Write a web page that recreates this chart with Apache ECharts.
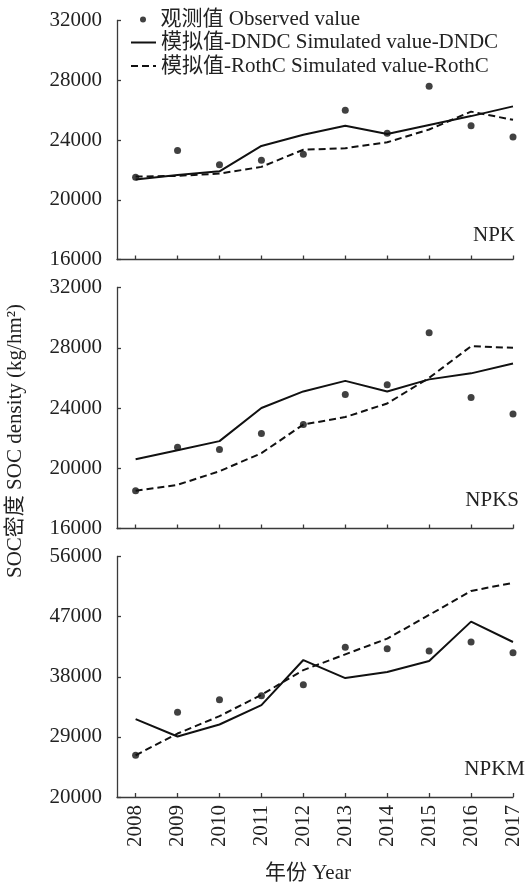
<!DOCTYPE html>
<html><head><meta charset="utf-8">
<script src="https://cdn.jsdelivr.net/npm/echarts@6/dist/echarts.min.js"></script>
<style>html,body{margin:0;padding:0;background:#fff}#c{width:532px;height:885px}</style>
</head><body><div id="c"></div>
<script>
// ---- data ----
const years = [2008, 2009, 2010, 2011, 2012, 2013, 2014, 2015, 2016, 2017];
const panelNames = ['NPK', 'NPKS', 'NPKM'];
const yTicksNPK = [16000, 20000, 24000, 28000, 32000];
const yTicksNPKS = [16000, 20000, 24000, 28000, 32000];
const yTicksNPKM = [20000, 29000, 38000, 47000, 56000];

const npkObserved = [21500, 23300, 22350, 22650, 23050, 26000, 24450, 27600, 24950, 24200];
const npkDNDC     = [21350, 21650, 21900, 23600, 24350, 24950, 24400, 25000, 25600, 26250];
const npkRothC    = [21550, 21600, 21750, 22200, 23350, 23450, 23850, 24700, 25900, 25350];

const npksObserved = [18500, 21400, 21250, 22300, 22900, 24900, 25550, 29000, 24700, 23600];
const npksDNDC     = [20600, 21200, 21800, 24000, 25100, 25800, 25100, 25900, 26300, 26950];
const npksRothC    = [18500, 18900, 19800, 21000, 22900, 23400, 24300, 26000, 28100, 28000];

const npkmObserved = [26250, 32700, 34550, 35150, 36800, 42400, 42200, 41850, 43200, 41600];
const npkmDNDC     = [31650, 29050, 30850, 33750, 40500, 37800, 38700, 40350, 46250, 43200];
const npkmRothC    = [26250, 29500, 32100, 35300, 39000, 41350, 43700, 47250, 50850, 52050];

const nameObs = '观测值 Observed value';
const nameDNDC = '模拟值-DNDC Simulated value-DNDC';
const nameRothC = '模拟值-RothC Simulated value-RothC';
const axisTitleY = 'SOC密度 SOC density (kg/hm²)';
const axisTitleX = '年份 Year';

// ---- build ----
const FONT = "'Liberation Serif', 'Noto Sans CJK SC', serif";
const TXT = '#222';
const AX = '#3a3a3a';
const panels = [
  {ticks: yTicksNPK, obs: npkObserved, dndc: npkDNDC, rothc: npkRothC},
  {ticks: yTicksNPKS, obs: npksObserved, dndc: npksDNDC, rothc: npksRothC},
  {ticks: yTicksNPKM, obs: npkmObserved, dndc: npkmDNDC, rothc: npkmRothC}
];
const gridTops = [20.5, 287.5, 556.5];
const gridHeights = [239, 241, 240.5];
const pair = arr => years.map((y, i) => [y, arr[i]]);

const grid = [], xAxis = [], yAxis = [], series = [];
panels.forEach((p, i) => {
  grid.push({left: 117, width: 396, top: gridTops[i], height: gridHeights[i]});
  xAxis.push({
    type: 'value', gridIndex: i, min: 2007.556, max: 2017,
    splitLine: {show: false},
    axisLine: {show: true, lineStyle: {color: AX, width: 1.3}},
    axisTick: {show: true, inside: true, length: 4, customValues: years, lineStyle: {color: AX, width: 1.3}},
    axisLabel: {show: i === 2, customValues: years, rotate: 90, margin: 8,
      fontFamily: FONT, fontSize: 21, color: TXT, formatter: v => String(v)}
  });
  const lo = p.ticks[0], hi = p.ticks[p.ticks.length - 1];
  yAxis.push({
    type: 'value', gridIndex: i, min: lo, max: hi,
    splitLine: {show: false},
    axisLine: {show: true, lineStyle: {color: AX, width: 1.3}},
    axisTick: {show: true, inside: true, length: 4, customValues: p.ticks, lineStyle: {color: AX, width: 1.3}},
    axisLabel: {customValues: p.ticks, margin: 15, fontFamily: FONT, fontSize: 21, color: TXT,
      formatter: v => String(v)}
  });
  series.push({
    name: nameDNDC, type: 'line', xAxisIndex: i, yAxisIndex: i, data: pair(p.dndc),
    symbol: 'none', lineStyle: {color: '#111', width: 2}, itemStyle: {color: '#111'}, z: 3
  });
  series.push({
    name: nameRothC, type: 'line', xAxisIndex: i, yAxisIndex: i, data: pair(p.rothc),
    symbol: 'none', lineStyle: {color: '#111', width: 2, type: [7, 4]}, itemStyle: {color: '#111'}, z: 3
  });
  series.push({
    name: nameObs, type: 'scatter', xAxisIndex: i, yAxisIndex: i, data: pair(p.obs),
    symbol: 'circle', symbolSize: 7, itemStyle: {color: '#111'}, z: 4
  });
});

const panelLabelPos = [[515, 235], [519, 500], [525, 769]];
const graphic = panelNames.map((t, i) => ({
  type: 'text', x: panelLabelPos[i][0], y: panelLabelPos[i][1],
  style: {text: t, fill: TXT, font: '21px ' + FONT, textAlign: 'right', textVerticalAlign: 'middle'}
}));
graphic.push({
  type: 'text', x: 15, y: 441, rotation: Math.PI / 2,
  style: {text: axisTitleY, fill: TXT, font: '21px ' + FONT, textAlign: 'center', textVerticalAlign: 'middle'}
});
graphic.push({
  type: 'text', x: 308, y: 873,
  style: {text: axisTitleX, fill: TXT, font: '21px ' + FONT, textAlign: 'center', textVerticalAlign: 'middle'}
});

const legendText = {fontFamily: FONT, fontSize: 21, color: TXT, lineHeight: 21};
const option = {
  animation: false,
  backgroundColor: '#fff',
  grid, xAxis, yAxis, series, graphic,
  legend: [
    {data: [{name: nameObs, icon: 'circle'}], left: 140, top: 9, itemWidth: 25, itemHeight: 6,
     textStyle: legendText, padding: 0, selectedMode: false},
    {data: [nameDNDC, nameRothC], orient: 'vertical',
     left: 130, top: 32, itemWidth: 25, itemHeight: 12, itemStyle: {opacity: 0},
     itemGap: 2.5, textStyle: legendText, padding: 0, selectedMode: false}
  ]
};
const chart = echarts.init(document.getElementById('c'), null, {renderer: 'canvas'});
chart.setOption(option);
</script></body></html>
